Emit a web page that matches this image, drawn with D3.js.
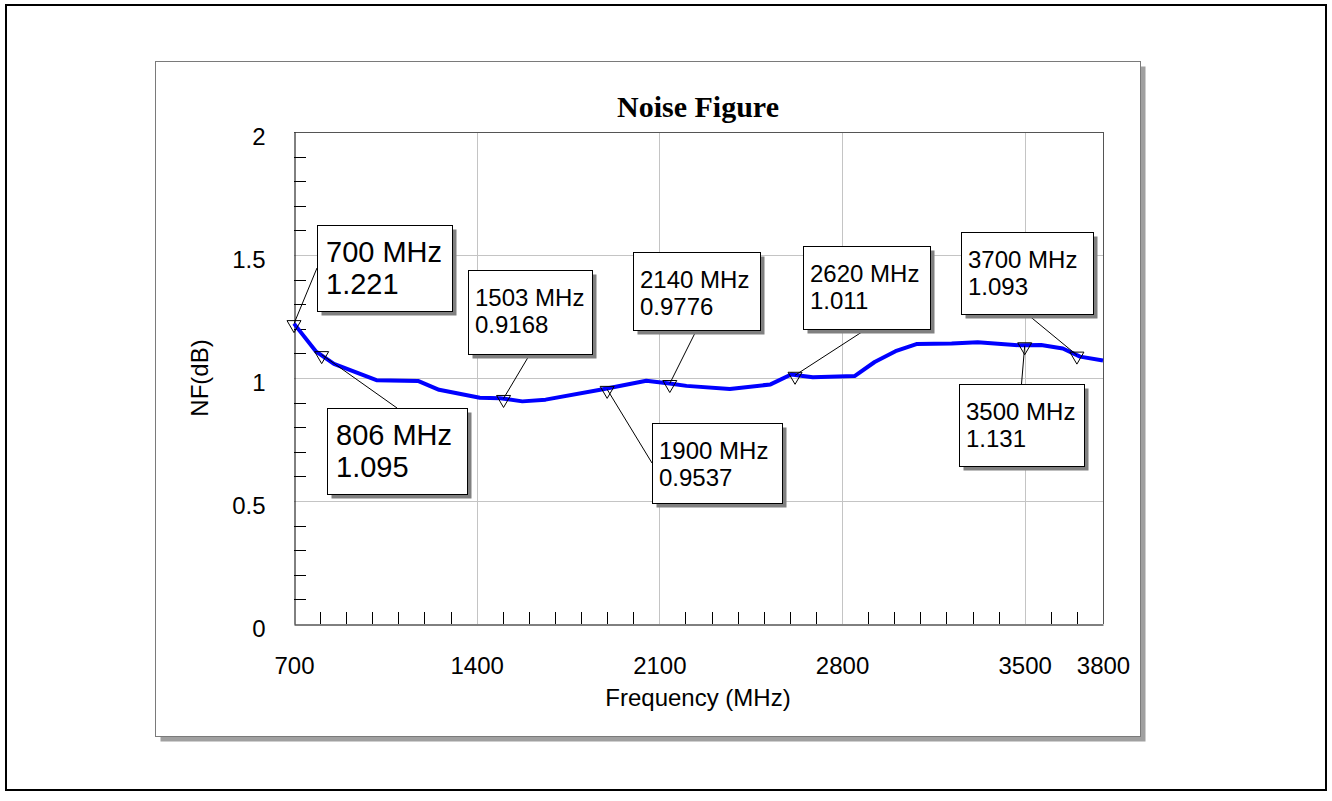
<!DOCTYPE html>
<html>
<head>
<meta charset="utf-8">
<script src="https://cdn.jsdelivr.net/npm/d3@7"></script>
<style>
  body { margin: 0; background: #fff; }
  text { font-family: "Liberation Sans", Arial, sans-serif; }
</style>
</head>
<body>
<script>
var width = 1332, height = 801;

// courbe NF mesuree
var freqs = [700, 785, 853, 1016, 1175, 1256, 1412, 1490, 1575, 1664, 1884, 2050, 2139, 2204, 2370,
             2526, 2605, 2688, 2848, 2925, 3005, 3085, 3220, 3320, 3480, 3563, 3646, 3712, 3800];
var nf = [1.221, 1.107, 1.057, 0.991, 0.988, 0.952, 0.920, 0.918, 0.905, 0.912, 0.954, 0.989, 0.978, 0.968, 0.955,
          0.974, 1.014, 1.003, 1.008, 1.065, 1.109, 1.138, 1.140, 1.145, 1.133, 1.134, 1.120, 1.087, 1.071];

// marqueurs
var markerFreqs = [700, 806, 1503, 1900, 2140, 2620, 3500, 3700];
var markerValues = ["1.221", "1.095", "0.9168", "0.9537", "0.9776", "1.011", "1.131", "1.093"];

var xTicks = [700, 1400, 2100, 2800, 3500, 3800];
var yTicks = [0, 0.5, 1, 1.5, 2];
var xGrid = [1400, 2100, 2800, 3500];
var yGrid = [0.5, 1, 1.5];

// placement des etiquettes (pixels) et cote d'attache de la ligne
var boxLayout = [
    { x: 317, y: 225, w: 135, h: 86, big: true, side: "left" },
    { x: 327, y: 408, w: 140, h: 86, big: true, side: "top" },
    { x: 468, y: 270, w: 124, h: 84, side: "bottom" },
    { x: 652, y: 423, w: 130, h: 80, side: "left" },
    { x: 633, y: 252, w: 127, h: 78, side: "bottom" },
    { x: 803, y: 246, w: 127, h: 83, side: "bottom" },
    { x: 959, y: 384, w: 125, h: 82, side: "top" },
    { x: 961, y: 232, w: 132, h: 82, side: "bottom" }
];

var svg = d3.select("body").append("svg")
    .attr("width", width)
    .attr("height", height);

// cadre exterieur
svg.append("rect")
    .attr("x", 6).attr("y", 5).attr("width", 1320).attr("height", 785)
    .attr("fill", "none").attr("stroke", "#000").attr("stroke-width", 2);

// panneau avec ombre
svg.append("rect")
    .attr("x", 160.5).attr("y", 66.5).attr("width", 985).attr("height", 675)
    .attr("fill", "#a0a0a0");
svg.append("rect")
    .attr("x", 155.5).attr("y", 61.5).attr("width", 985).attr("height", 675)
    .attr("fill", "#fff").attr("stroke", "#7a7a7a");

var x = d3.scaleLinear().domain([700, 3800]).range([294, 1103]);
var y = d3.scaleLinear().domain([0, 2]).range([624, 132]);

var g = svg.append("g");

// grille
g.selectAll(".vgrid").data(xGrid).enter().append("line")
    .attr("x1", d => Math.round(x(d)) + 0.5).attr("x2", d => Math.round(x(d)) + 0.5)
    .attr("y1", y(2)).attr("y2", y(0))
    .attr("stroke", "#c4c4c4");
g.selectAll(".hgrid").data(yGrid).enter().append("line")
    .attr("y1", d => Math.round(y(d)) + 0.5).attr("y2", d => Math.round(y(d)) + 0.5)
    .attr("x1", x(700)).attr("x2", x(3800))
    .attr("stroke", "#c4c4c4");

// bords haut et droite
g.append("line").attr("x1", x(700)).attr("x2", x(3800) + 0.5)
    .attr("y1", y(2) + 0.5).attr("y2", y(2) + 0.5).attr("stroke", "#555");
g.append("line").attr("x1", x(3800) + 0.5).attr("x2", x(3800) + 0.5)
    .attr("y1", y(2)).attr("y2", y(0)).attr("stroke", "#555");

// petites graduations
var xMinor = d3.range(800, 3800, 100).filter(d => xTicks.indexOf(d) < 0);
g.selectAll(".xminor").data(xMinor).enter().append("line")
    .attr("x1", d => Math.round(x(d)) + 0.5).attr("x2", d => Math.round(x(d)) + 0.5)
    .attr("y1", y(0)).attr("y2", y(0) - 12)
    .attr("stroke", "#000");
var yMinor = d3.range(1, 20).filter(i => i % 5 != 0).map(i => i / 10);
g.selectAll(".yminor").data(yMinor).enter().append("line")
    .attr("y1", d => Math.round(y(d)) + 0.5).attr("y2", d => Math.round(y(d)) + 0.5)
    .attr("x1", x(700)).attr("x2", x(700) + 12)
    .attr("stroke", "#000");

// axes
var xAxis = g.append("g")
    .attr("transform", "translate(0," + (y(0) + 0.5) + ")")
    .call(d3.axisBottom(x).tickValues(xTicks).tickSize(0).tickPadding(32).tickFormat(d3.format("d")));
var yAxis = g.append("g")
    .attr("transform", "translate(" + (x(700) + 0.5) + ",0)")
    .call(d3.axisLeft(y).tickValues(yTicks).tickSize(0).tickPadding(29).tickFormat(d3.format("")));
[xAxis, yAxis].forEach(function(a) {
    a.select(".domain").attr("stroke", "#000");
    a.selectAll("text").attr("font-size", 24).attr("fill", "#000")
        .style("font-family", "'Liberation Sans', Arial, sans-serif");
});
yAxis.selectAll("text").attr("dy", "0.5em");

// titres
svg.append("text")
    .attr("x", 698).attr("y", 117)
    .attr("text-anchor", "middle")
    .style("font-family", "'Liberation Serif', 'Times New Roman', serif")
    .style("font-weight", "bold").style("font-size", "30px")
    .text("Noise Figure");
svg.append("text")
    .attr("x", 698).attr("y", 706)
    .attr("text-anchor", "middle").style("font-size", "24px")
    .text("Frequency (MHz)");
svg.append("text")
    .attr("transform", "translate(208," + y(1) + ") rotate(-90)")
    .attr("text-anchor", "middle").style("font-size", "24px")
    .text("NF(dB)");

// courbe
var pts = freqs.map((f, i) => [f, nf[i]]);
var line = d3.line().x(d => x(d[0])).y(d => y(d[1]));
g.append("path")
    .datum(pts)
    .attr("d", line)
    .attr("fill", "none")
    .attr("stroke", "#0000ff")
    .attr("stroke-width", 4)
    .attr("stroke-linejoin", "round");

var markers = markerFreqs.map((f, i) => ({ f: f, v: markerValues[i], box: boxLayout[i] }));

// lignes de rappel
function anchor(b) {
    if (b.side == "left") return [b.x, b.y + b.h / 2];
    if (b.side == "top") return [b.x + b.w / 2, b.y];
    return [b.x + b.w / 2, b.y + b.h];
}
g.selectAll(".leader").data(markers).enter().append("line")
    .attr("x1", d => anchor(d.box)[0]).attr("y1", d => anchor(d.box)[1])
    .attr("x2", d => x(d.f)).attr("y2", d => y(+d.v))
    .attr("stroke", "#000").attr("stroke-width", 1);

// triangles
g.selectAll(".tri").data(markers).enter().append("path")
    .attr("d", function(d) {
        var px = x(d.f), py = y(+d.v);
        return "M" + (px - 7) + "," + (py - 3) + "L" + (px + 7) + "," + (py - 3) + "L" + px + "," + (py + 9) + "Z";
    })
    .attr("fill", "none").attr("stroke", "#000").attr("stroke-width", 1);

// etiquettes
var boxes = g.selectAll(".box").data(markers).enter().append("g");
boxes.append("rect")
    .attr("x", d => d.box.x + 4.5).attr("y", d => d.box.y + 4.5)
    .attr("width", d => d.box.w).attr("height", d => d.box.h)
    .attr("fill", "#808080");
boxes.append("rect")
    .attr("x", d => d.box.x + 0.5).attr("y", d => d.box.y + 0.5)
    .attr("width", d => d.box.w).attr("height", d => d.box.h)
    .attr("fill", "#fff").attr("stroke", "#000");
boxes.append("text")
    .attr("x", d => d.box.x + (d.box.big ? 9 : 7))
    .attr("y", d => d.box.y + (d.box.big ? 37 : 35.5))
    .style("font-size", d => d.box.big ? "29px" : "24px")
    .text(d => d.f + " MHz");
boxes.append("text")
    .attr("x", d => d.box.x + (d.box.big ? 9 : 7))
    .attr("y", d => d.box.y + (d.box.big ? 69 : 63))
    .style("font-size", d => d.box.big ? "29px" : "24px")
    .text(d => d.v);
</script>
</body>
</html>
